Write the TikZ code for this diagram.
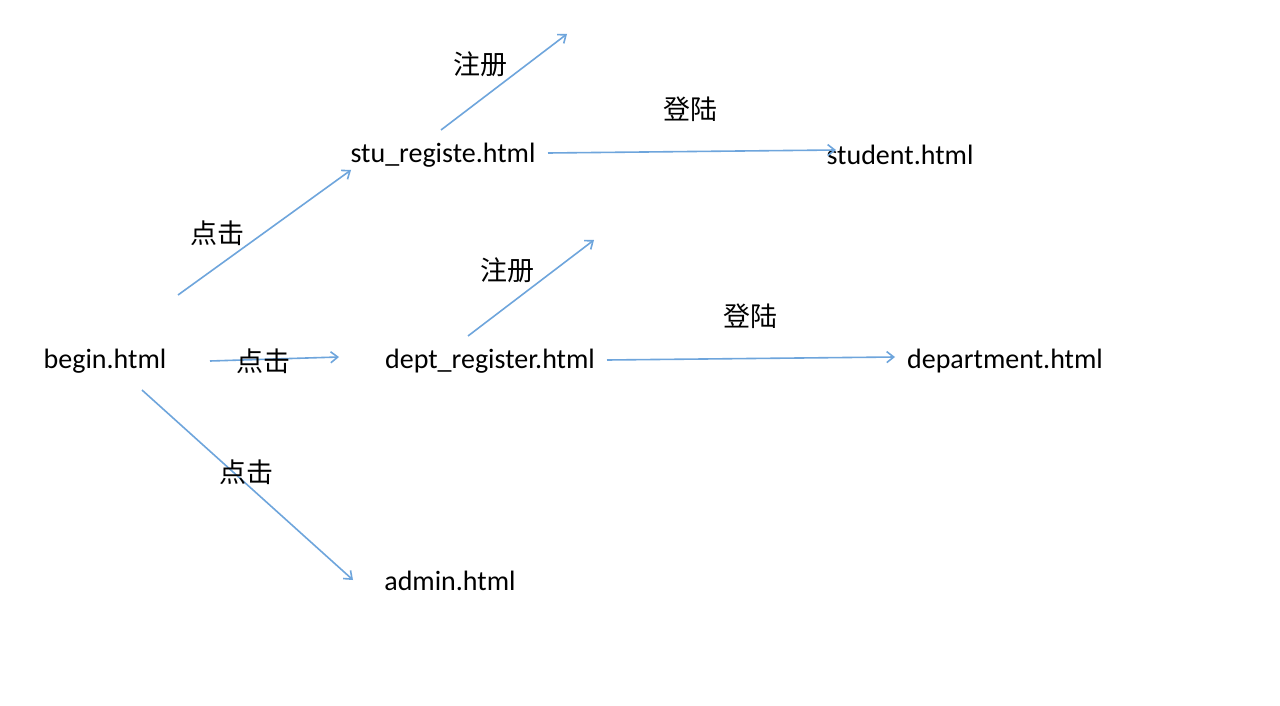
\documentclass[tikz,border=0pt]{standalone}
\usepackage{fontspec}
\setmainfont{Carlito}
\newfontfamily\cjk{Noto Sans CJK SC}
\usetikzlibrary{arrows.meta}
\definecolor{arr}{RGB}{110,165,220}
\tikzset{
  lbl/.style={inner sep=0pt, font=\fontsize{28}{32}\selectfont},
  cn/.style={inner sep=0pt, font=\cjk\fontsize{27}{32}\selectfont},
  conn/.style={draw=arr, line width=1.6pt, -{Straight Barb[length=7pt,width=11pt]}}
}
\begin{document}
\begin{tikzpicture}[x=1pt,y=-1pt]
\useasboundingbox[fill=white] (0,0) rectangle (1280,706);
% nodes
\node[lbl] (begin) at (105,361) {begin.html};
\node[lbl] (stu) at (443,155) {stu\_registe.html};
\node[lbl] (student) at (900,155) {student.html};
\node[lbl] (dept) at (490,361) {dept\_register.html};
\node[lbl] (department) at (1005,361) {department.html};
\node[lbl] (admin) at (450,581) {admin.html};
% endpoints
\coordinate (s1) at (441,130); \coordinate (e1) at (567,34);
\coordinate (s2) at (548,153); \coordinate (e2) at (836,150);
\coordinate (s3) at (178,295); \coordinate (e3) at (351,170);
\coordinate (s4) at (468,336); \coordinate (e4) at (594,240);
\coordinate (s5) at (607,360); \coordinate (e5) at (895,357);
\coordinate (s6) at (210,361); \coordinate (e6) at (339,357);
\coordinate (s7) at (142,390); \coordinate (e7) at (353,580);
\draw[conn] (s1) -- (e1);
\draw[conn] (s2) -- (e2);
\draw[conn] (s3) -- (e3);
\draw[conn] (s4) -- (e4);
\draw[conn] (s5) -- (e5);
\draw[conn] (s6) -- (e6);
\draw[conn] (s7) -- (e7);
% labels
\node[cn] (l1) at (480,64) {注册};
\node[cn] (l2) at (690,109) {登陆};
\node[cn] (l3) at (217,233) {点击};
\node[cn] (l4) at (507,270) {注册};
\node[cn] (l5) at (750,316) {登陆};
\node[cn] (l6) at (263,361) {点击};
\node[cn] (l7) at (246,472) {点击};
\end{tikzpicture}
\end{document}
